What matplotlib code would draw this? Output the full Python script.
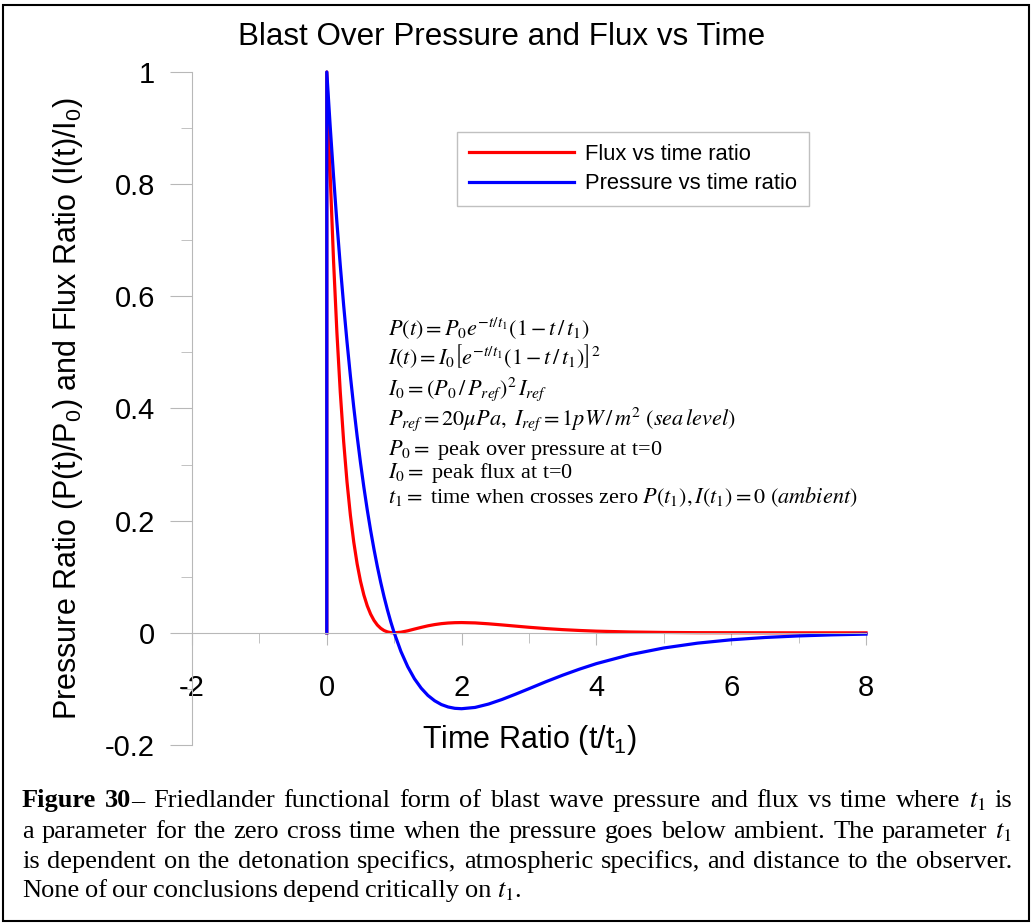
import matplotlib
matplotlib.use('Agg')
import matplotlib.pyplot as plt
from matplotlib.patches import Rectangle

# values
time_ratio = [0, 0, 0.05, 0.1, 0.15, 0.2, 0.25, 0.3, 0.35, 0.4, 0.45, 0.5, 0.55, 0.6, 0.65,
              0.7, 0.75, 0.8, 0.85, 0.9, 0.95, 1.0, 1.1, 1.2, 1.3, 1.4, 1.5, 1.6, 1.7, 1.8,
              1.9, 2.0, 2.2, 2.4, 2.6, 2.8, 3.0, 3.25, 3.5, 3.75, 4.0, 4.5, 5.0, 5.5, 6.0,
              6.5, 7.0, 7.5, 8.0]
pressure_ratio = [0, 1, 0.9037, 0.8144, 0.7316, 0.6550, 0.5841, 0.5186, 0.4580, 0.4022,
                  0.3507, 0.3033, 0.2596, 0.2195, 0.1827, 0.1490, 0.1181, 0.0899, 0.0641,
                  0.0407, 0.0193, 0, -0.0333, -0.0602, -0.0818, -0.0986, -0.1116, -0.1211,
                  -0.1279, -0.1322, -0.1346, -0.1353, -0.1330, -0.1270, -0.1188, -0.1094,
                  -0.0996, -0.0872, -0.0755, -0.0647, -0.0549, -0.0389, -0.0270, -0.0184,
                  -0.0124, -0.0083, -0.0055, -0.0036, -0.0023]
flux_ratio = [0, 1, 0.8166, 0.6633, 0.5353, 0.4290, 0.3412, 0.2689, 0.2098, 0.1618, 0.1230,
              0.0920, 0.0674, 0.0482, 0.0334, 0.0222, 0.0139, 0.0081, 0.0041, 0.0017, 0.0004,
              0, 0.0011, 0.0036, 0.0067, 0.0097, 0.0125, 0.0147, 0.0164, 0.0175, 0.0181,
              0.0183, 0.0177, 0.0161, 0.0141, 0.0120, 0.0099, 0.0076, 0.0057, 0.0042, 0.0030,
              0.0015, 0.0007, 0.0003, 0.0002, 0.0001, 0, 0, 0]

x_ticks = [-2, 0, 2, 4, 6, 8]
x_minor = [-1, 1, 3, 5, 7]
y_ticks = [-0.2, 0, 0.2, 0.4, 0.6, 0.8, 1]
y_tick_labels = ['-0.2', '0', '0.2', '0.4', '0.6', '0.8', '1']
y_minor = [-0.1, 0.1, 0.3, 0.5, 0.7, 0.9]

equations = [
    r'$P(t) = P_0 e^{-t/t_1}(1 - t\,/\,t_1)$',
    r'$I(t) = I_0\left[e^{-t/t_1}(1 - t\,/\,t_1)\right]^2$',
    r'$I_0 = (P_0\,/\,P_{ref})^2\, I_{ref}$',
    r'$P_{ref} = 20\mu Pa,\ I_{ref} = 1pW\,/\,m^2\ (sea\,level)$',
    r'$P_0 =$ peak over pressure at t=0',
    r'$I_0 =$ peak flux at t=0',
    r'$t_1 =$ time when crosses zero $P(t_1), I(t_1) = 0\ (ambient)$',
]
eq_baselines = [336, 364, 395, 425, 455, 478, 503]

caption = [
    [('Figure', 'bold', False), ('30', 'bold', False), ('\u2013', 'normal', True),
     ('Friedlander', 'normal', False), ('functional', 'normal', False), ('form', 'normal', False),
     ('of', 'normal', False), ('blast', 'normal', False), ('wave', 'normal', False),
     ('pressure', 'normal', False), ('and', 'normal', False), ('flux', 'normal', False),
     ('vs', 'normal', False), ('time', 'normal', False), ('where', 'normal', False),
     ('$t_1$', 'normal', False), ('is', 'normal', False)],
    [(w, 'normal', False) for w in
     'a parameter for the zero cross time when the pressure goes below ambient. The parameter $t_1$'.split(' ')],
    [(w, 'normal', False) for w in
     'is dependent on the detonation specifics, atmospheric specifics, and distance to the observer.'.split(' ')],
    [(w, 'normal', False) for w in 'None of our conclusions depend critically on $t_1$.'.split(' ')],
]
caption_baselines = [807, 838, 868, 897]

W, H = 1034, 923
plt.rcParams['font.family'] = ['Liberation Sans', 'DejaVu Sans']
plt.rcParams['axes.unicode_minus'] = False
fig = plt.figure(figsize=(W / 100, H / 100), dpi=100)
ax = fig.add_axes([192 / W, 1 - 745 / H, 674 / W, 673 / H])

ax.plot(time_ratio, flux_ratio, color='#ff0000', lw=2.3, label='Flux vs time ratio', clip_on=False)
ax.plot(time_ratio, pressure_ratio, color='#0000ff', lw=2.3, label='Pressure vs time ratio', clip_on=False)

ax.set_xlim(-2, 8)
ax.set_ylim(-0.2, 1)
grey = '#b8b8b8'
for s in ['top', 'right']:
    ax.spines[s].set_visible(False)
ax.spines['bottom'].set_position(('data', 0))
ax.spines['bottom'].set_color(grey)
ax.spines['left'].set_color(grey)

ax.set_xticks(x_ticks)
ax.set_xticks(x_minor, minor=True)
ax.set_yticks(y_ticks)
ax.set_yticklabels(y_tick_labels)
ax.set_yticks(y_minor, minor=True)
ax.tick_params(axis='x', which='major', length=8.6, color=grey, labelsize=21, pad=21)
ax.tick_params(axis='x', which='minor', length=7.2, color=grey)
ax.tick_params(axis='y', which='major', length=15.8, color=grey, labelsize=21, pad=11)
ax.tick_params(axis='y', which='minor', length=8, color=grey)

ax.set_xlabel('Time Ratio (t/t$_\\mathregular{1}$)', fontsize=22)
ax.xaxis.set_label_coords(0.5, 0.007)
ax.xaxis.label.set_va('center')
ax.set_ylabel('Pressure Ratio (P(t)/P$_\\mathregular{0}$) and Flux Ratio (I(t)/I$_\\mathregular{0}$)', fontsize=22)
ax.yaxis.set_label_coords(-0.159, 0.5)

fig.text(502 / W, 1 - 37 / H, 'Blast Over Pressure and Flux vs Time', fontsize=22.6, ha='center', va='center')

ax.legend(loc='upper left', bbox_to_anchor=(457 / W, 1 - 132 / H), bbox_transform=fig.transFigure,
          fontsize=15.8, fancybox=False, edgecolor='#c0c0c0', framealpha=1, borderaxespad=0,
          borderpad=0.55, labelspacing=0.38, handlelength=4.8, handletextpad=0.5)

for line, yb in zip(equations, eq_baselines):
    fig.text(388 / W, 1 - yb / H, line, fontsize=16, family='Liberation Serif',
             math_fontfamily='stix', va='baseline')

# caption, justified word by word
renderer = fig.canvas.get_renderer()
left, right = 22, 1012
for i, (words, yb) in enumerate(zip(caption, caption_baselines)):
    objs = []
    for w, wt, glue in words:
        t = fig.text(0, 1 - yb / H, w, fontsize=19, family='Liberation Serif', weight=wt,
                     math_fontfamily='stix', va='baseline')
        objs.append((t, t.get_window_extent(renderer).width, glue))
    total = sum(o[1] for o in objs)
    gaps = sum(1 for o in objs[1:] if not o[2])
    if i < len(caption) - 1:
        gap = (right - left - total) / gaps
    else:
        gap = 5.5
    x = left
    for j, (t, wd, glue) in enumerate(objs):
        if j > 0 and not glue:
            x += gap
        t.set_x(x / W)
        x += wd

fig.add_artist(Rectangle((3 / W, 1 - 921 / H), 1026 / W, 916 / H, transform=fig.transFigure,
                         fill=False, edgecolor='black', lw=1.5))

plt.savefig('out.png', dpi=100)
